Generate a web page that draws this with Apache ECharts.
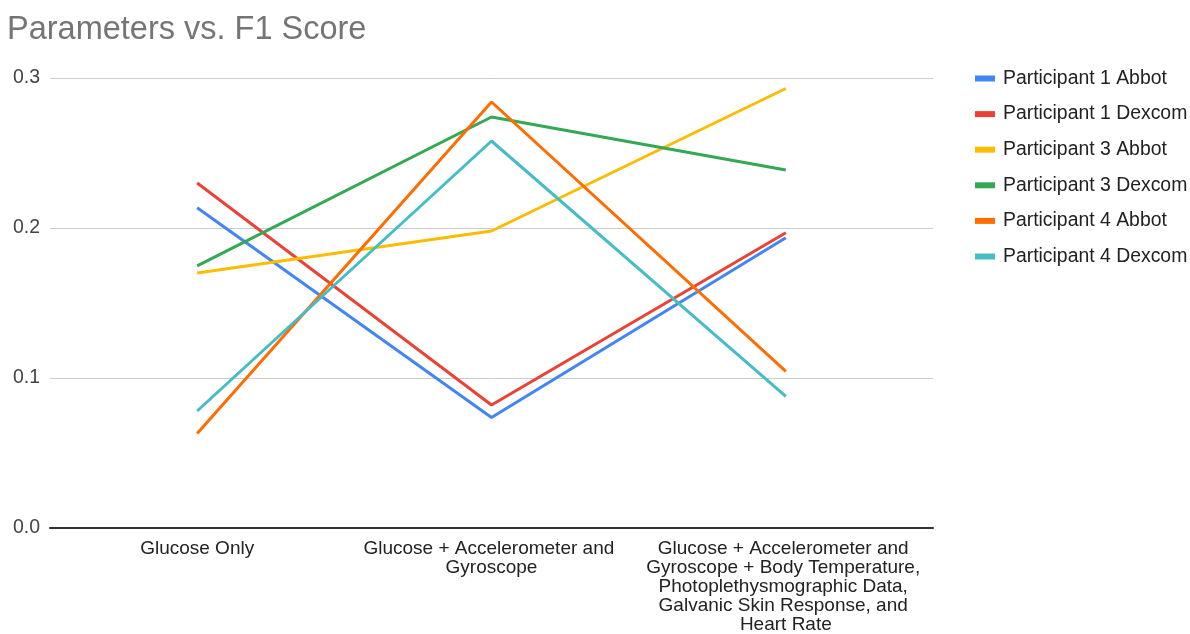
<!DOCTYPE html>
<html>
<head>
<meta charset="utf-8">
<script src="https://cdn.jsdelivr.net/npm/echarts@6/dist/echarts.min.js"></script>
<style>
  html, body { margin: 0; padding: 0; background: #fff; }
  #chart { width: 1190px; height: 634px; }
</style>
</head>
<body>
<div id="chart"></div>
<script>
// --- data ---
const categories = [
  'Glucose Only',
  'Glucose + Accelerometer and Gyroscope',
  'Glucose + Accelerometer and Gyroscope + Body Temperature, Photoplethysmographic Data, Galvanic Skin Response, and Heart Rate'
];
const seriesNames = [
  'Participant 1 Abbot',
  'Participant 1 Dexcom',
  'Participant 3 Abbot',
  'Participant 3 Dexcom',
  'Participant 4 Abbot',
  'Participant 4 Dexcom'
];
const p1Abbot = [0.2135, 0.0737, 0.1935];
const p1Dexcom = [0.230, 0.082, 0.1968];
const p3Abbot = [0.170, 0.198, 0.293];
const p3Dexcom = [0.1747, 0.274, 0.2387];
const p4Abbot = [0.063, 0.284, 0.1044];
const p4Dexcom = [0.078, 0.258, 0.0877];
const yTicks = [0, 0.1, 0.2, 0.3];

const seriesValues = [p1Abbot, p1Dexcom, p3Abbot, p3Dexcom, p4Abbot, p4Dexcom];
const COLORS = ['#4285f4', '#ea4335', '#fbbc04', '#34a853', '#ff6d01', '#46bdc6'];
const FONT = '"Liberation Sans", Arial, sans-serif';

const chart = echarts.init(document.getElementById('chart'));

const option = {
  backgroundColor: '#fff',
  color: COLORS,
  textStyle: { fontFamily: FONT },
  title: {
    text: 'Parameters vs. F1 Score',
    left: 2,
    top: 9,
    textStyle: { color: '#757575', fontSize: 32.5, fontWeight: 'normal', fontFamily: FONT }
  },
  legend: {
    orient: 'vertical',
    left: 970,
    top: 64,
    icon: 'rect',
    itemWidth: 20,
    itemHeight: 6,
    itemGap: 16.6,
    textStyle: { color: '#222', fontSize: 19.4, lineHeight: 19, padding: [0, 0, 0, 3], fontFamily: FONT },
    data: seriesNames
  },
  grid: {
    left: 50,
    right: 257,
    top: 78,
    bottom: 106,
    containLabel: false
  },
  xAxis: {
    type: 'category',
    data: categories,
    boundaryGap: true,
    axisLine: { lineStyle: { color: '#333', width: 2 } },
    axisTick: { show: false },
    axisLabel: {
      color: '#222',
      fontSize: 19,
      lineHeight: 19,
      margin: 11,
      width: 282,
      overflow: 'break',
      interval: 0,
      fontFamily: FONT
    }
  },
  yAxis: {
    type: 'value',
    min: yTicks[0],
    max: yTicks[yTicks.length - 1],
    interval: 0.1,
    axisLine: { show: false },
    axisTick: { show: false },
    splitLine: { lineStyle: { color: '#ccc', width: 1 } },
    axisLabel: {
      color: '#444',
      fontSize: 19.5,
      margin: 10,
      formatter: v => v.toFixed(1),
      fontFamily: FONT,
      padding: [3, 0, 0, 0]
    }
  },
  series: seriesNames.map((name, i) => ({
    name,
    type: 'line',
    data: seriesValues[i],
    showSymbol: false,
    symbol: 'none',
    lineStyle: { width: 3 }
  }))
};

chart.setOption(option);
</script>
</body>
</html>
